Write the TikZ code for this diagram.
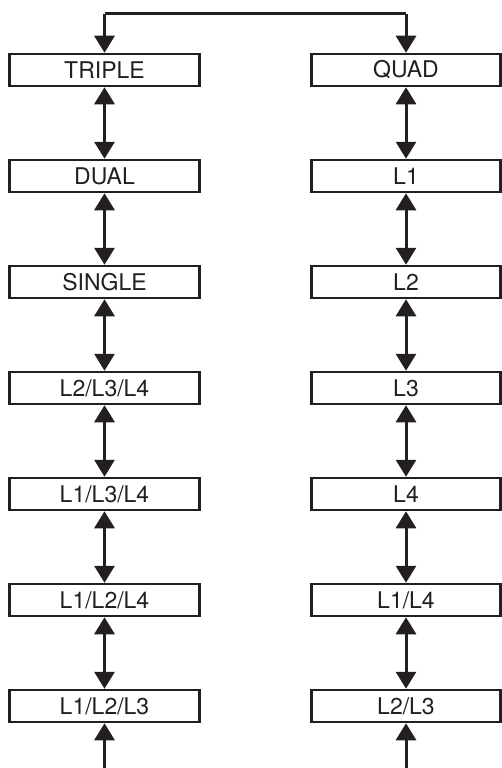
\documentclass[tikz,border=0pt]{standalone}
\usepackage{fontspec}
\setmainfont{TeX Gyre Heros}
\usetikzlibrary{arrows.meta}
\definecolor{ink}{HTML}{231F20}
\tikzset{
  modebox/.style={draw=ink, line width=2.5pt, minimum width=190pt, minimum height=32pt,
    inner sep=0pt, text=ink, font=\fontsize{23}{26}\selectfont},
  link/.style={draw=ink, line width=3pt, {Triangle[length=17pt,width=20pt]}-{Triangle[length=17pt,width=20pt]}},
  linkend/.style={draw=ink, line width=3pt, -{Triangle[length=17pt,width=20pt]}}
}
\begin{document}
\begin{tikzpicture}[x=1pt,y=-1pt]
\useasboundingbox (0,0) rectangle (501,768);
\node[modebox] (l1) at (104.5,70) {TRIPLE};
\node[modebox] (l2) at (104.5,176) {DUAL};
\node[modebox] (l3) at (104.5,282) {SINGLE};
\node[modebox] (l4) at (104.5,388) {L2/L3/L4};
\node[modebox] (l5) at (104.5,494) {L1/L3/L4};
\node[modebox] (l6) at (104.5,600) {L1/L2/L4};
\node[modebox] (l7) at (104.5,706) {L1/L2/L3};
\node[modebox, minimum width=189pt] (r1) at (406,70) {QUAD};
\node[modebox, minimum width=189pt] (r2) at (406,176) {L1};
\node[modebox, minimum width=189pt] (r3) at (406,282) {L2};
\node[modebox, minimum width=189pt] (r4) at (406,388) {L3};
\node[modebox, minimum width=189pt] (r5) at (406,494) {L4};
\node[modebox, minimum width=189pt] (r6) at (406,600) {L1/L4};
\node[modebox, minimum width=189pt] (r7) at (406,706) {L2/L3};
\coordinate (tl) at (104.5,14);
\coordinate (tr) at (406,14);
\coordinate (bl) at (104.5,770);
\coordinate (br) at (406,770);
\draw[linkend] (tl) -- (l1.north);
\draw[linkend] (tr) -- (r1.north);
\draw[draw=ink, line width=3pt] (tl) -- (tr);
\foreach \a/\b in {1/2,2/3,3/4,4/5,5/6,6/7}{
  \draw[link] (l\a.south) -- (l\b.north);
  \draw[link] (r\a.south) -- (r\b.north);
}
\draw[linkend] (bl) -- (l7.south);
\draw[linkend] (br) -- (r7.south);
\end{tikzpicture}
\end{document}
